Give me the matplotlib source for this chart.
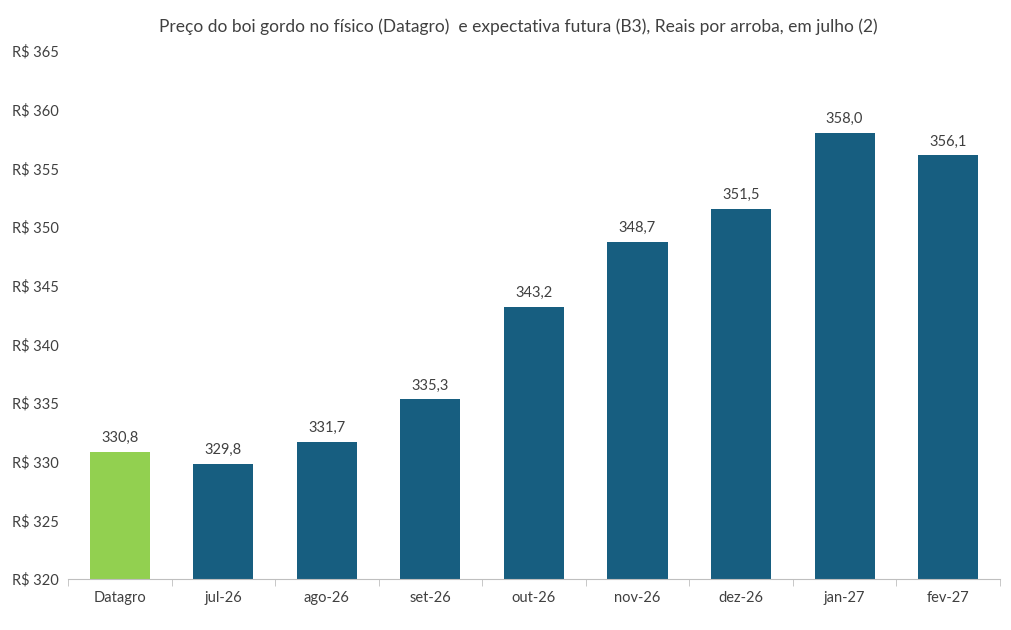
import matplotlib.pyplot as plt
import numpy as np

# Data
categories = ["Datagro", "jul-26", "ago-26", "set-26", "out-26", "nov-26", "dez-26", "jan-27", "fev-27"]
values = [330.8, 329.8, 331.7, 335.3, 343.2, 348.7, 351.5, 358.0, 356.1]
bar_colors = ["#92D050"] + ["#175E80"] * 8
title = "Preço do boi gordo no físico (Datagro)  e expectativa futura (B3), Reais por arroba, em julho (2)"

plt.rcParams['font.family'] = ['Lato', 'DejaVu Sans']
text_color = "#404040"

fig = plt.figure(figsize=(10.11, 6.30), dpi=100)
ax = fig.add_axes([0.0673, 0.081, 0.9217, 0.838])

x = np.arange(len(categories))
bars = ax.bar(x, np.array(values) - 320, bottom=320, width=0.58, color=bar_colors)

for xi, v in zip(x, values):
    ax.text(xi, v + 0.6, f"{v:.1f}".replace(".", ","), ha="center", va="bottom",
            fontsize=10.5, color=text_color)

ax.set_ylim(320, 365)
ax.set_xlim(-0.5, len(categories) - 0.5)
yt = np.arange(320, 366, 5)
ax.set_yticks(yt)
ax.set_yticklabels([f"R$ {v}" for v in yt], fontsize=10.5, color=text_color)
for lab in ax.get_yticklabels():
    lab.set_ha("left")
ax.tick_params(axis="y", length=0, pad=40.3)

ax.set_xticks(x)
ax.set_xticklabels(categories, fontsize=10.5, color=text_color)
ax.set_xticks(np.arange(-0.5, len(categories), 1), minor=True)
ax.tick_params(axis="x", which="major", length=0, pad=9)
ax.tick_params(axis="x", which="minor", length=5, color="#BFBFBF", direction="out")

for s in ["top", "right", "left"]:
    ax.spines[s].set_visible(False)
ax.spines["bottom"].set_color("#BFBFBF")

fig.text(0.5125, 0.957, title, ha="center", va="center", fontsize=12.5, color=text_color)

fig.savefig("out.png", dpi=100)
